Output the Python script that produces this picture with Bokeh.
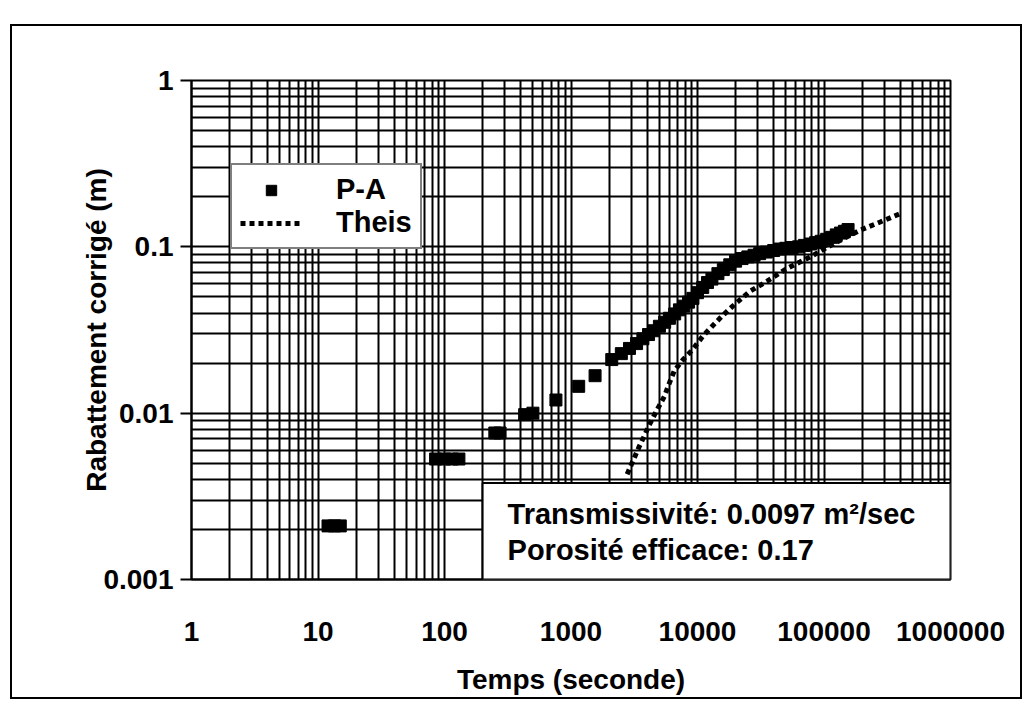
from bokeh.plotting import figure
from bokeh.models import (FixedTicker, Legend, LegendItem, BoxAnnotation, Label,
                          ColumnDataSource, Spacer, Range1d)
from bokeh.layouts import column
from bokeh.embed import file_html
from bokeh.resources import INLINE

# ---------------- data ----------------
x_ticks = [1, 10, 100, 1000, 10000, 100000, 1000000]
x_tick_labels = ["1", "10", "100", "1000", "10000", "100000", "1000000"]
y_ticks = [0.001, 0.01, 0.1, 1]
y_tick_labels = ["0.001", "0.01", "0.1", "1"]

pa_time = [12, 13.5, 15, 85, 100, 115, 130, 250, 275, 430, 500, 760, 1150, 1550,
           2100, 2500, 2900, 3300, 3700, 4100, 4500, 5000, 5500, 6000, 6600, 7200,
           7800, 8500, 9200, 10000, 11000, 12000, 13000, 14500, 16000, 18000, 20000,
           22500, 25000, 28000, 31000, 35000, 40000, 45000, 50000, 56000, 63000,
           70000, 78000, 86000, 95000, 105000, 115000, 125000, 135000, 145000, 155000]
pa_drawdown = [0.0021, 0.0021, 0.0021, 0.0053, 0.0053, 0.0053, 0.0053, 0.0076, 0.0076,
               0.0098, 0.0100, 0.0120, 0.0145, 0.0168,
               0.021, 0.0228, 0.0245, 0.0262, 0.028, 0.0297, 0.0313, 0.0333, 0.0352,
               0.0372, 0.0395, 0.0418, 0.044, 0.0465, 0.049, 0.053, 0.057, 0.061,
               0.064, 0.069, 0.073, 0.078, 0.082, 0.085, 0.087, 0.089, 0.091, 0.093,
               0.095, 0.097, 0.098, 0.099, 0.100, 0.102, 0.104, 0.106, 0.108, 0.111,
               0.114, 0.118, 0.121, 0.124, 0.127]

theis_time = [2780, 3100, 3460, 3800, 4160, 4800, 5470, 6000, 6560, 7700, 9100, 11000,
              12900, 16000, 19000, 25900, 35300, 50800, 64500, 80000, 100000, 130000,
              160000, 193000, 278000, 398000]
theis_drawdown = [0.0043, 0.0052, 0.0063, 0.0073, 0.0085, 0.0105, 0.0126, 0.0152, 0.018,
                  0.021, 0.024, 0.029, 0.033, 0.039, 0.044, 0.054, 0.062, 0.074, 0.081,
                  0.088, 0.097, 0.108, 0.117, 0.126, 0.141, 0.158]

series_names = ["P-A", "Theis"]
info_lines = ["Transmissivité: 0.0097 m²/sec", "Porosité efficace: 0.17"]

FONT = "Liberation Sans"
FS = "28px"

x_minor = [m * 10 ** e for e in range(0, 6) for m in range(2, 10)]
y_minor = [m * 10.0 ** e for e in range(-3, 0) for m in range(2, 10)]

W, H = 1008, 671
p = figure(width=W, height=H, x_axis_type="log", y_axis_type="log",
           x_range=Range1d(1, 1000000), y_range=Range1d(0.001, 1),
           output_backend="svg", toolbar_location=None,
           min_border_left=179, min_border_right=70, min_border_top=54,
           min_border_bottom=115, background_fill_color="white",
           border_fill_color="white")

p.outline_line_color = "black"
p.outline_line_width = 2

xt = FixedTicker(ticks=x_ticks, minor_ticks=x_minor)
yt = FixedTicker(ticks=y_ticks, minor_ticks=y_minor)
p.xaxis.ticker = xt
p.yaxis.ticker = yt
p.xgrid.ticker = xt
p.ygrid.ticker = yt
for g in (p.xgrid, p.ygrid):
    g.grid_line_color = "black"
    g.grid_line_width = 2
    g.grid_line_alpha = 1
    g.minor_grid_line_color = "black"
    g.minor_grid_line_width = 2

p.xaxis.major_label_overrides = {t: l for t, l in zip(x_ticks, x_tick_labels)}
p.yaxis.major_label_overrides = {t: l for t, l in zip(y_ticks, y_tick_labels)}

for ax in (p.xaxis[0], p.yaxis[0]):
    ax.axis_line_color = "black"
    ax.axis_line_width = 2
    ax.major_tick_line_color = "black"
    ax.major_tick_line_width = 2
    ax.minor_tick_line_color = None
    ax.major_tick_in = 0
    ax.major_label_text_font = FONT
    ax.major_label_text_font_size = FS
    ax.major_label_text_font_style = "bold"
    ax.major_label_text_color = "black"
    ax.axis_label_text_font = FONT
    ax.axis_label_text_font_size = FS
    ax.axis_label_text_font_style = "bold"
    ax.axis_label_text_color = "black"

p.xaxis.major_tick_out = 0
p.xaxis.major_label_standoff = 38
p.xaxis.axis_label = "Temps (seconde)"
p.xaxis.axis_label_standoff = 20
p.yaxis.major_tick_out = 11
p.yaxis.major_label_standoff = 7
p.yaxis.axis_label = "Rabattement corrigé (m)"
p.yaxis.axis_label_standoff = -12

src_pa = ColumnDataSource(dict(t=pa_time, s=pa_drawdown))
src_th = ColumnDataSource(dict(t=theis_time, s=theis_drawdown))

r_th = p.line("t", "s", source=src_th, line_color="black", line_width=5,
              line_dash="5 4")
r_pa = p.scatter("t", "s", source=src_pa, marker="square", size=12,
                 fill_color="black", line_color="black")

legend = Legend(items=[LegendItem(label=series_names[0], renderers=[r_pa]),
                       LegendItem(label=series_names[1], renderers=[r_th])],
                location=(39, 330))
legend.label_text_font = FONT
legend.label_text_font_size = "29px"
legend.label_text_font_style = "bold"
legend.label_text_color = "black"
legend.glyph_width = 62
legend.glyph_height = 26
legend.label_height = 26
legend.label_standoff = 34
legend.padding = 8
legend.spacing = 0
legend.margin = 0
legend.border_line_color = "black"
legend.border_line_width = 2
legend.background_fill_color = "white"
legend.background_fill_alpha = 1
p.add_layout(legend)

box = BoxAnnotation(left=200, right=1000000, bottom=0.001, top=0.0038,
                    fill_color="white", fill_alpha=1, line_color="black",
                    line_width=2, line_alpha=1)
p.add_layout(box)

for txt, yy in zip(info_lines, [0.00248, 0.00150]):
    p.add_layout(Label(x=315, y=yy, text=txt, text_baseline="middle",
                       text_font=FONT, text_font_size="29px", text_font_style="bold",
                       text_color="black"))

inner = column(p, spacing=0, styles={"border": "2px solid black"})
layout = column(Spacer(width=W, height=24), inner, spacing=0,
                styles={"padding-left": "10px"})

with open("out.html", "w") as f:
    f.write(file_html(layout, INLINE))
